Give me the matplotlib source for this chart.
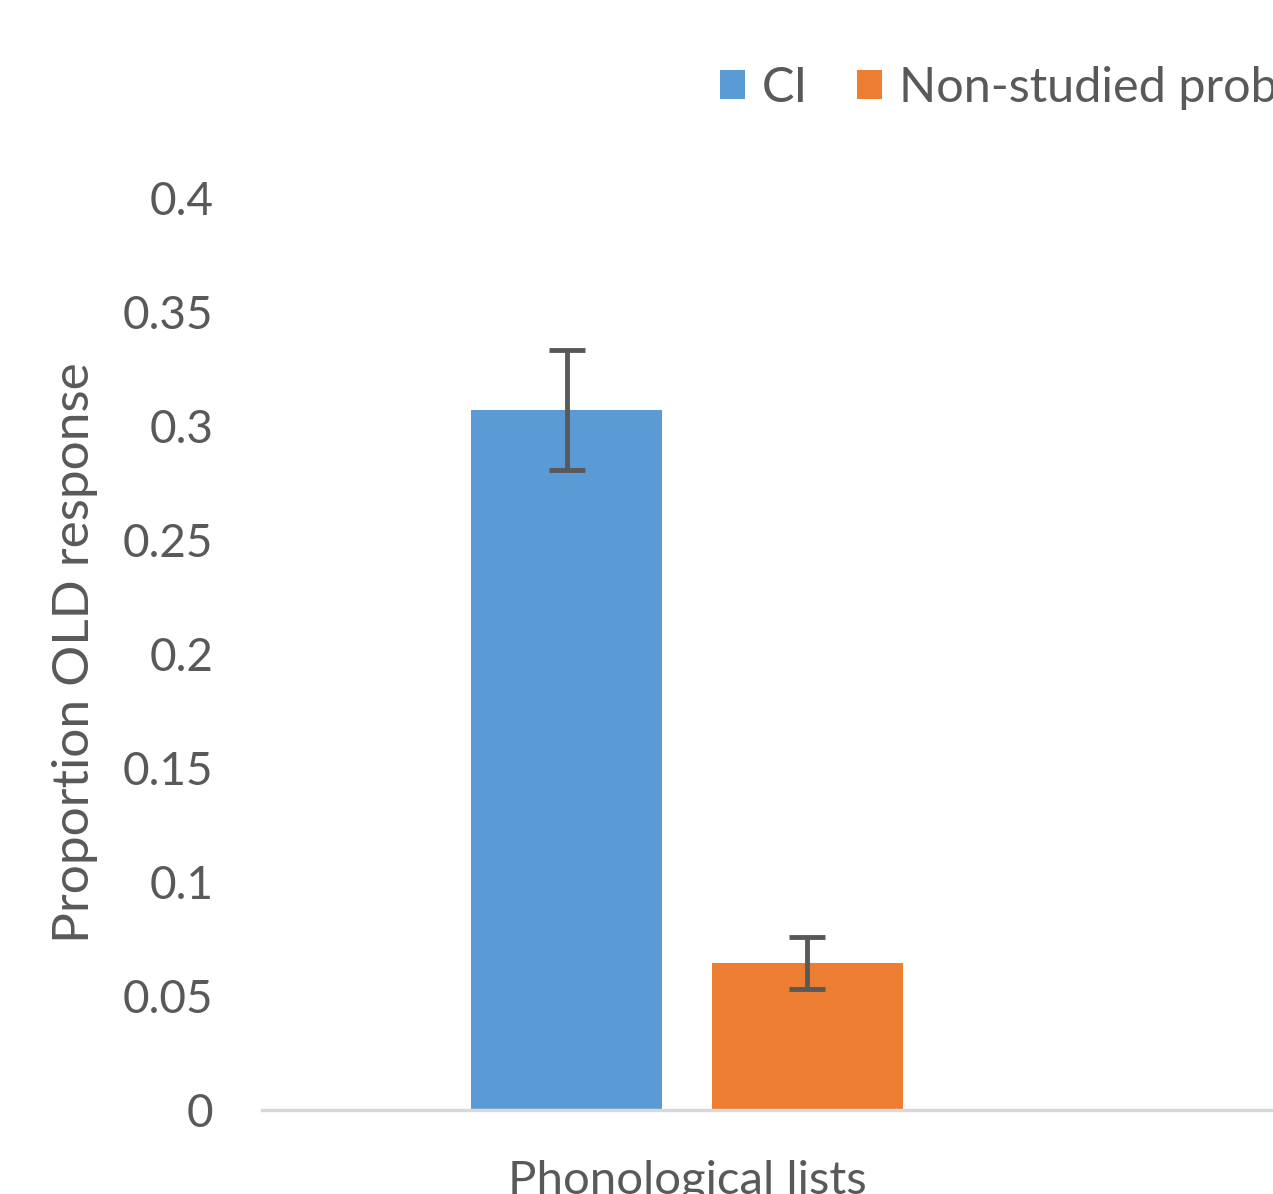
import matplotlib.pyplot as plt

# data
categories = ['Phonological lists']
series = ['CI', 'Non-studied probe']
values = [0.307, 0.0645]
errors = [0.0265, 0.0115]
colors = ['#5B9BD5', '#ED7D31']

plt.rcParams['font.family'] = ['Lato', 'DejaVu Sans']

fig = plt.figure(figsize=(12.73, 11.94), dpi=100)
# axes box in figure fractions (chart is cropped on the right)
ax = fig.add_axes([262 / 1273, 1 - 1110 / 1194, 1 - 262 / 1273, 912 / 1194])

width = 0.225
offsets = [-0.1415, 0.1415]
for name, v, e, c, off in zip(series, values, errors, colors, offsets):
    ax.bar(0 + off, v, width=width, color=c, label=name, zorder=2)
    ax.errorbar(0 + off, v, yerr=e, fmt='none', ecolor='#595959',
                elinewidth=3.5, capsize=13, capthick=3.5, zorder=3)

ax.set_xlim(-0.5, 0.5 + (1273 - 1112) / 850)
ax.set_ylim(0, 0.4)
ax.set_yticks([0, 0.05, 0.1, 0.15, 0.2, 0.25, 0.3, 0.35, 0.4])
ax.set_yticklabels(['0', '0.05', '0.1', '0.15', '0.2', '0.25', '0.3', '0.35', '0.4'])
ax.set_xticks([0])
ax.set_xticklabels(categories)

for s in ['top', 'right', 'left']:
    ax.spines[s].set_visible(False)
ax.spines['bottom'].set_color('#D9D9D9')
ax.spines['bottom'].set_linewidth(2.5)
ax.spines['bottom'].set_zorder(4)

ax.tick_params(axis='y', length=0, pad=35, labelsize=33, labelcolor='#595959')
ax.tick_params(axis='x', length=0, pad=36, labelsize=34, labelcolor='#595959')

fig.text(75 / 1273, 1 - 653 / 1194, 'Proportion OLD response', rotation=90,
         ha='center', va='center', fontsize=37, color='#595959')

leg = fig.legend(loc='center left', bbox_to_anchor=(676 / 1273, 1 - 88 / 1194),
                 ncol=2, frameon=False, fontsize=35, handlelength=0.52,
                 handleheight=0.55, handletextpad=0.35, columnspacing=1.0)
for t in leg.get_texts():
    t.set_color('#595959')

fig.savefig('out.png', dpi=100)
